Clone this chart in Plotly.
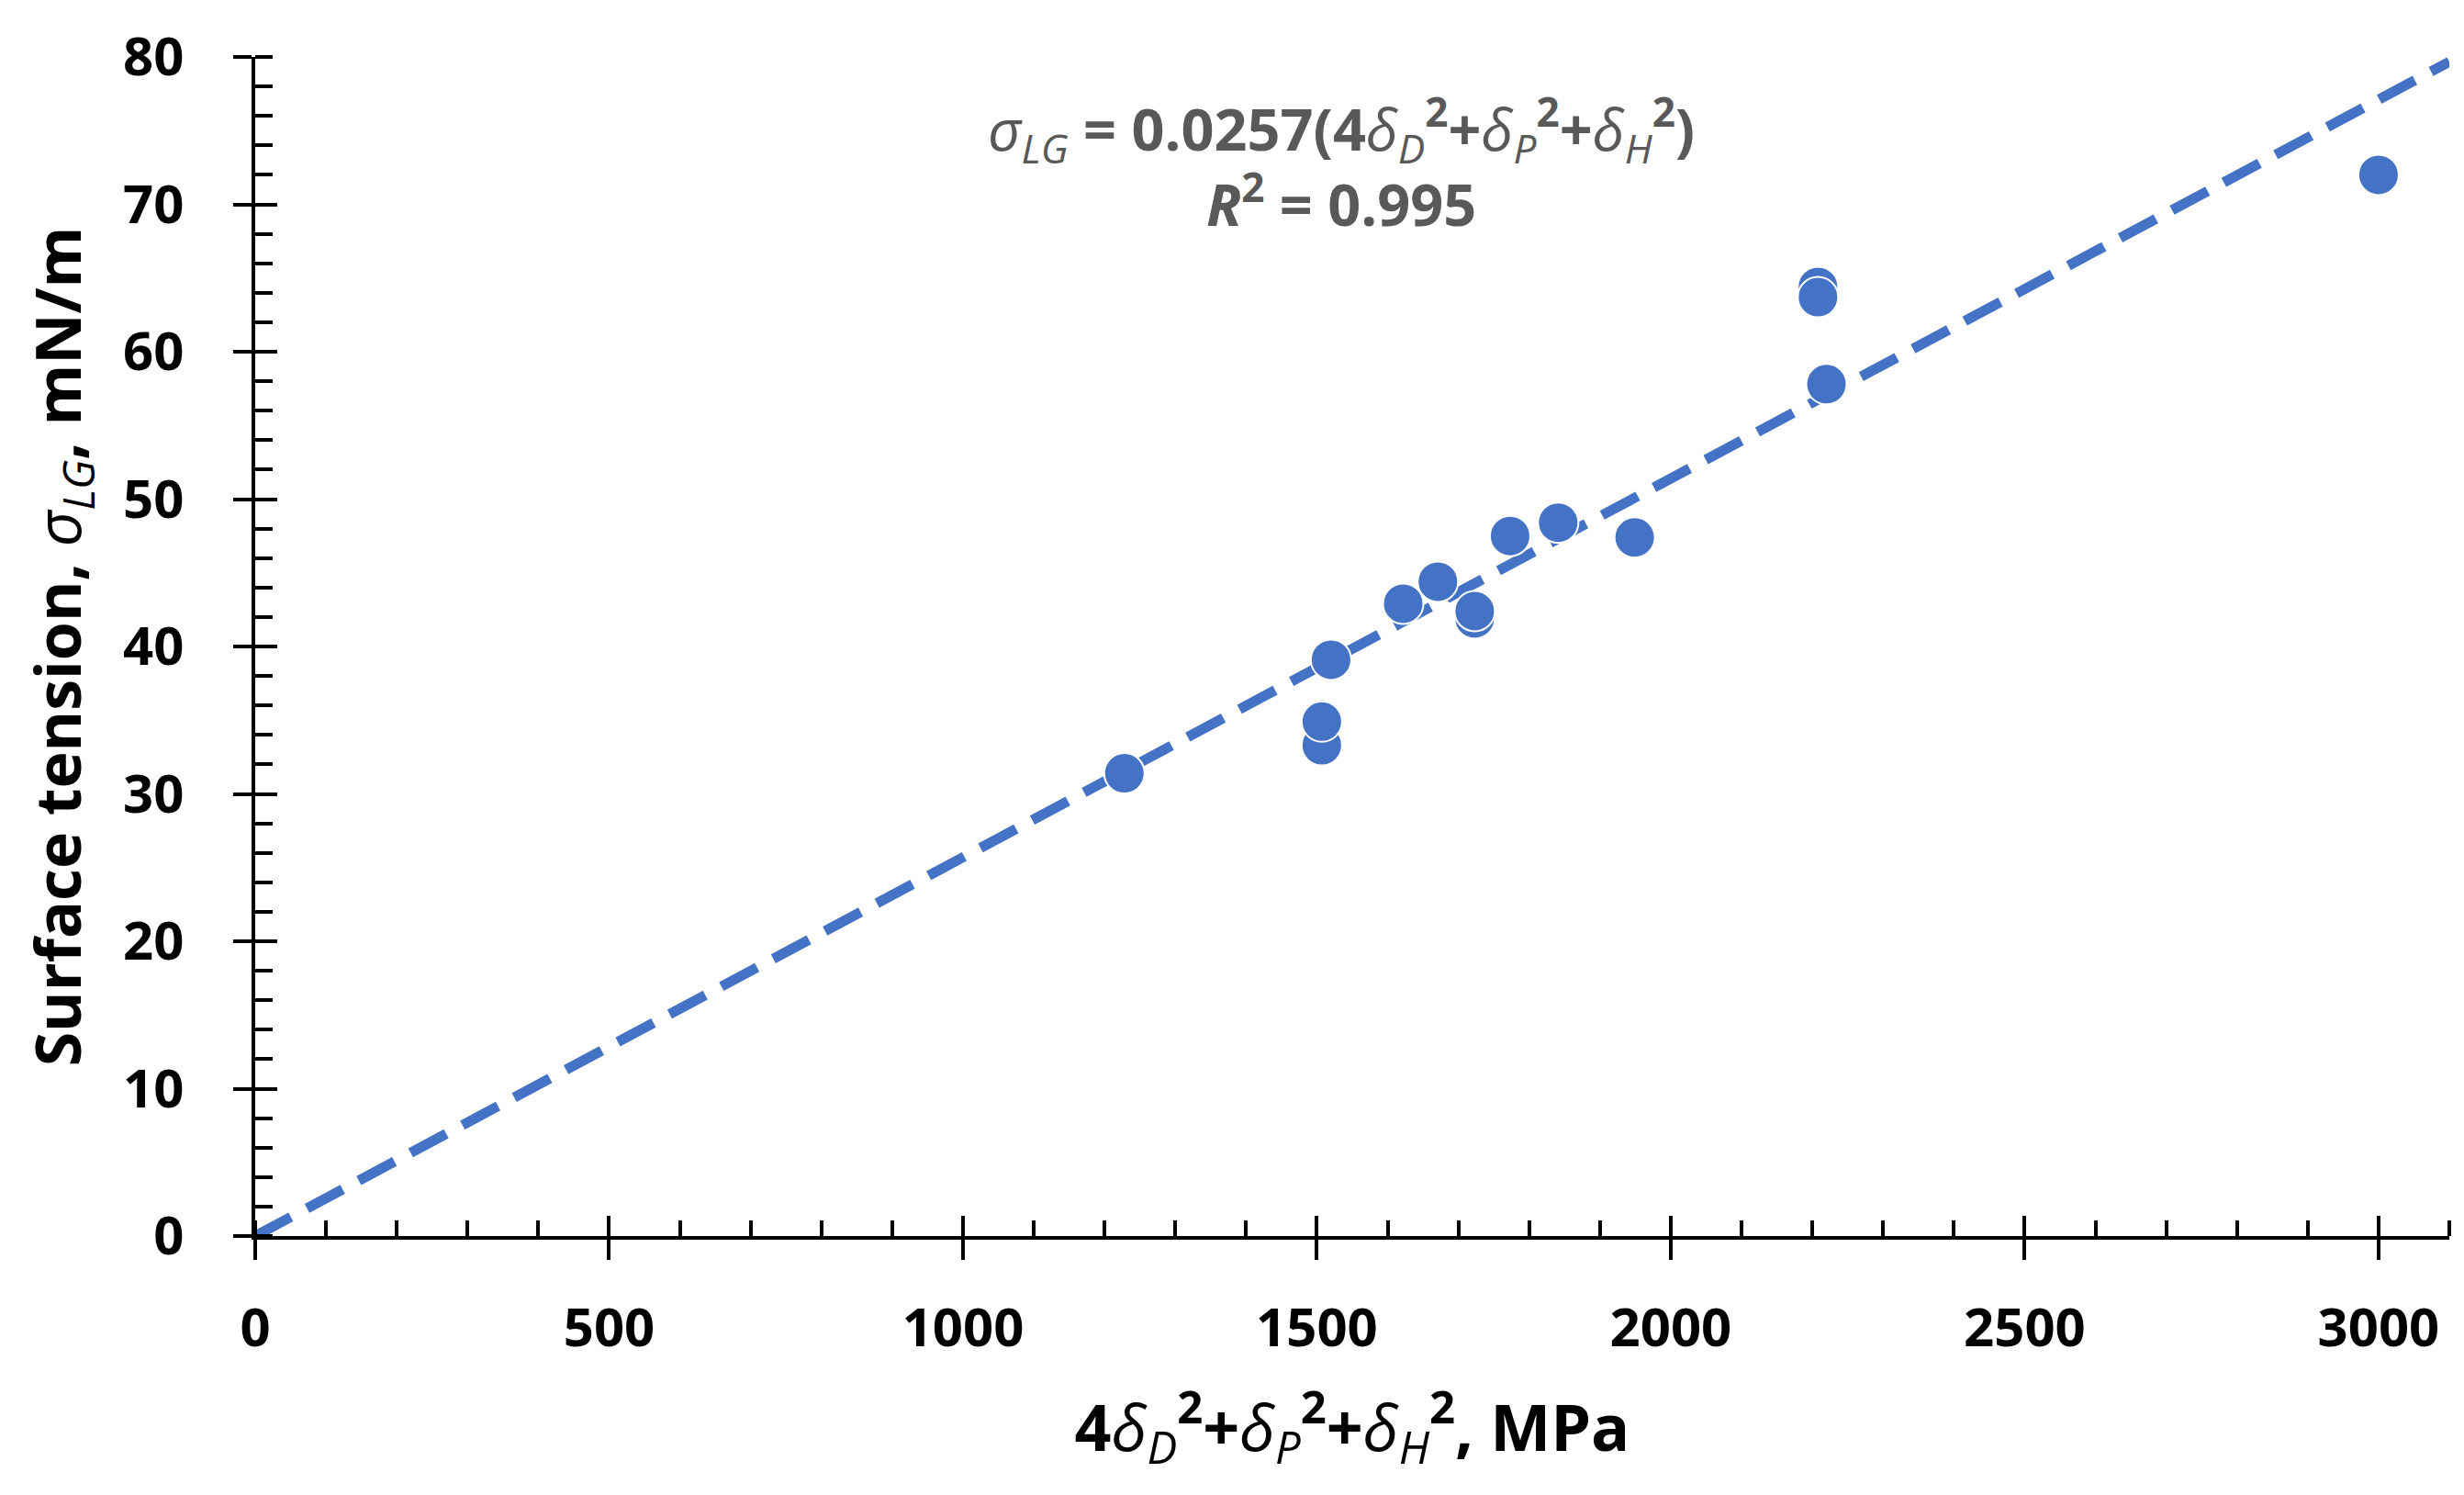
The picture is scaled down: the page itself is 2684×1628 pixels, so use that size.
import plotly.graph_objects as go

x_vals = [1228, 1507, 1507, 1520, 1622, 1671, 1723, 1723, 1773, 1841, 1949, 2208, 2208, 2220, 3000]
y_vals = [31.4, 33.3, 34.9, 39.1, 42.9, 44.4, 41.9, 42.4, 47.5, 48.4, 47.4, 64.4, 63.7, 57.8, 72.0]

# fitted line through origin
slope = 0.0257
fit_x = [0, 3100]
fit_y = [slope * v for v in fit_x]

blue = '#4472C4'
font_name = 'Open Sans'

fig = go.Figure()

fig.add_trace(go.Scatter(x=fit_x, y=fit_y, mode='lines',
                         line=dict(color=blue, width=11, dash='44px,20px'),
                         showlegend=False))

fig.add_trace(go.Scatter(x=x_vals, y=y_vals, mode='markers',
                         marker=dict(color=blue, size=44, line=dict(color='white', width=2)),
                         showlegend=False))

# invisible trace to create the second axes (inner half of the major ticks)
fig.add_trace(go.Scatter(x=[None], y=[None], xaxis='x2', yaxis='y2', showlegend=False))

fig.add_annotation(
    x=1535, y=72.8, xref='x', yref='y', showarrow=False,
    text=('<i>σ<sub>LG</sub></i><b> = 0.0257(4</b><i>δ<sub>D</sub></i><b><sup>2</sup>+</b>'
          '<i>δ<sub>P</sub></i><b><sup>2</sup>+</b><i>δ<sub>H</sub></i><b><sup>2</sup>)</b><br>'
          '<b><i>R</i><sup>2</sup> = 0.995</b>'),
    font=dict(family=font_name, size=63, color='#595959'),
    align='center')

axis_common = dict(showgrid=False, zeroline=False, showline=True, linecolor='black', linewidth=4,
                   tickcolor='black', tickwidth=4)

fig.update_layout(
    width=2684, height=1628,
    plot_bgcolor='white', paper_bgcolor='white',
    margin=dict(l=270, r=24, t=52, b=290),
    font=dict(family=font_name, color='black'),
    xaxis=dict(range=[0, 3100], tickvals=[0, 500, 1000, 1500, 2000, 2500, 3000],
               ticks='outside', ticklen=22, ticklabelstandoff=24,
               minor=dict(dtick=100, ticks='inside', ticklen=17, tickwidth=4, tickcolor='black'),
               tickfont=dict(family=font_name, size=58, weight='bold'),
               title=dict(text=('<b>4</b><i>δ<sub>D</sub></i><b><sup>2</sup>+</b><i>δ<sub>P</sub></i>'
                                '<b><sup>2</sup>+</b><i>δ<sub>H</sub></i><b><sup>2</sup>, MPa</b>'),
                          font=dict(family=font_name, size=70), standoff=50),
               **axis_common),
    yaxis=dict(range=[0, 80], tickvals=[0, 10, 20, 30, 40, 50, 60, 70, 80],
               ticks='outside', ticklen=20, ticklabelstandoff=42,
               minor=dict(dtick=2, ticks='inside', ticklen=19, tickwidth=4, tickcolor='black'),
               tickfont=dict(family=font_name, size=58, weight='bold'),
               title=dict(text='<b>Surface tension, </b><i>σ<sub>LG</sub></i><b>, mN/m</b>',
                          font=dict(family=font_name, size=68), standoff=24),
               **axis_common),
    xaxis2=dict(range=[0, 3100], overlaying='x', anchor='y2', side='bottom',
                tickvals=[0, 500, 1000, 1500, 2000, 2500, 3000], ticks='inside', ticklen=22,
                tickwidth=4, tickcolor='black', showticklabels=False, showline=False,
                showgrid=False, zeroline=False),
    yaxis2=dict(range=[0, 80], overlaying='y', anchor='x2', side='left',
                tickvals=[0, 10, 20, 30, 40, 50, 60, 70, 80], ticks='inside', ticklen=24,
                tickwidth=4, tickcolor='black', showticklabels=False, showline=False,
                showgrid=False, zeroline=False),
)

fig.write_html('out.html')
